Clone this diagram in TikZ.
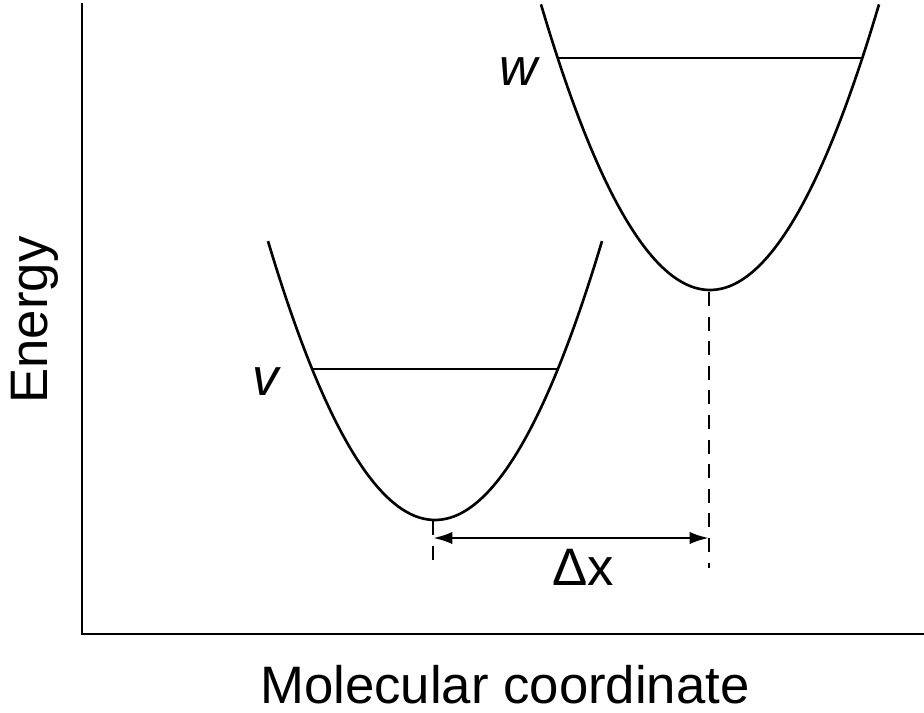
\documentclass[tikz,border=0pt]{standalone}
\usepackage{fontspec}
\setmainfont{Liberation Sans}
\usepackage{tikz}
\usetikzlibrary{positioning, arrows.meta, calc}

\begin{document}
\begin{tikzpicture}[x=0.02cm, y=-0.02cm,
          axis/.style={line width=1.6pt},
          well/.style={line width=1.5pt, samples=80, smooth},
          level/.style={line width=1.5pt},
          guide/.style={line width=1.6pt, dash pattern=on 8pt off 6pt},
          darr/.style={{Latex[length=11pt, width=7pt]}-{Latex[length=11pt, width=7pt]}, line width=1.5pt},
          lbl/.style={font=\fontsize{30}{33}\selectfont, inner sep=0pt},
          statelbl/.style={font=\fontsize{30}{33}\selectfont\itshape, inner sep=0pt}
        ]
        \useasboundingbox (0,0) rectangle (924,713);
        % axes
        \coordinate (top) at (82,3);
        \coordinate (origin) at (82,634);
        \coordinate (right) at (924,634);
        \draw[axis] (top) -- (origin) -- (right);
        \node[lbl, rotate=90] (energy) at (35,320) {Energy};
        \node[lbl] (molcoord) at (505,685) {Molecular coordinate};
        % potential wells
        \draw[well, domain=268:602] plot (\x, {520 - ((\x-435)/10)^2});
        \draw[well, domain=541:879] plot (\x, {290 - ((\x-710)/10)^2});
        \coordinate (minv) at (435,520);
        \coordinate (minw) at (710,290);
        % vibrational levels
        \coordinate (vl) at (312,369);
        \coordinate (vr) at (558,369);
        \coordinate (wl) at (558,58);
        \coordinate (wr) at (862,58);
        \draw[level] (vl) -- (vr);
        \draw[level] (wl) -- (wr);
        \node[statelbl] (v) at (266,382) {v};
        \node[statelbl] (w) at (519,72) {w};
        % displacement
        \coordinate (dv) at (433,568);
        \coordinate (dw) at (709,568);
        \draw[guide] (433,521) -- (dv);
        \draw[guide] (709,292) -- (dw);
        \coordinate (av) at (433,538);
        \coordinate (aw) at (709,538);
        \draw[darr] (av) -- (aw);
        \node[lbl] (dx) at (583,567) {Δx};
\end{tikzpicture}
\end{document}
